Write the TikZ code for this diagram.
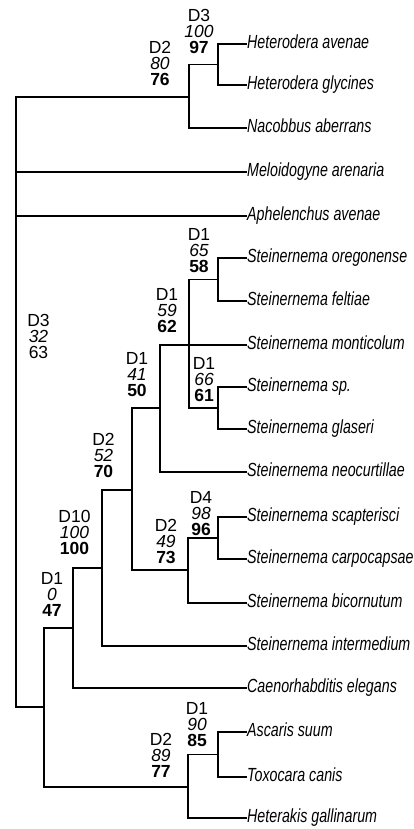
\documentclass[tikz,border=0pt]{standalone}
\usepackage{fontspec}
\setmainfont{Liberation Sans}
\newfontfamily\leaffont[FakeStretch=0.75]{Liberation Sans}
\tikzset{
  leaf/.style={anchor=base west,inner sep=0pt,font=\leaffont\itshape\fontsize{19}{19}\selectfont},
  lab/.style={anchor=south,inner sep=0pt,align=center,font=\fontsize{17.5}{16}\selectfont},
  br/.style={line width=1.25pt}
}
\newcommand{\leafat}[3]{%
  \coordinate (#1) at (247,#2);
  \node[leaf] (#1-t) at ([yshift=-4.8pt]#1) {#3};}
\newcommand{\labtxt}[3]{#1\\{\itshape #2}\\{\bfseries #3}}
\begin{document}
\begin{tikzpicture}[x=1pt,y=-1pt]
\useasboundingbox (0,0) rectangle (414,829);
% leaves
\leafat{ha}{44}{Heterodera avenae}
\leafat{hg}{85}{Heterodera glycines}
\leafat{na}{128}{Nacobbus aberrans}
\leafat{ma}{172}{Meloidogyne arenaria}
\leafat{aa}{216}{Aphelenchus avenae}
\leafat{so}{258}{Steinernema oregonense}
\leafat{sf}{301}{Steinernema feltiae}
\leafat{sm}{345}{Steinernema monticolum}
\leafat{ssp}{387}{Steinernema sp.}
\leafat{sg}{429}{Steinernema glaseri}
\leafat{sn}{472}{Steinernema neocurtillae}
\leafat{ssc}{517}{Steinernema scapterisci}
\leafat{sc}{559}{Steinernema carpocapsae}
\leafat{sb}{603}{Steinernema bicornutum}
\leafat{si}{646}{Steinernema intermedium}
\leafat{ce}{688}{Caenorhabditis elegans}
\leafat{as}{732}{Ascaris suum}
\leafat{tc}{777}{Toxocara canis}
\leafat{hgal}{818}{Heterakis gallinarum}
% internal nodes
\coordinate (n97) at (218,64.5);
\coordinate (n76) at (189,97);
\coordinate (r) at (16,402);
\coordinate (nX) at (44,707);
\coordinate (n47) at (73,628);
\coordinate (n100) at (102,568);
\coordinate (n70) at (132,490);
\coordinate (n50) at (160,408);
\coordinate (n62) at (189,345);
\coordinate (n58) at (218,279.5);
\coordinate (n61) at (218,408);
\coordinate (n73) at (188,570);
\coordinate (n96) at (218,538);
\coordinate (n77) at (188,787);
\coordinate (n85) at (218,754.5);
% branches
\draw[br] (n97) |- (ha);  \draw[br] (n97) |- (hg);
\draw[br] (n76) |- (n97); \draw[br] (n76) |- (na);
\draw[br] (r) |- (n76); \draw[br] (r) |- (ma); \draw[br] (r) |- (aa); \draw[br] (r) |- (nX);
\draw[br] (nX) |- (n47); \draw[br] (nX) |- (n77);
\draw[br] (n47) |- (n100); \draw[br] (n47) |- (ce);
\draw[br] (n100) |- (n70); \draw[br] (n100) |- (si);
\draw[br] (n70) |- (n50); \draw[br] (n70) |- (n73);
\draw[br] (n50) |- (n62); \draw[br] (n50) |- (sn);
\draw[br] (n62) |- (n58); \draw[br] (n62) |- (sm); \draw[br] (n62) |- (n61);
\draw[br] (n58) |- (so); \draw[br] (n58) |- (sf);
\draw[br] (n61) |- (ssp); \draw[br] (n61) |- (sg);
\draw[br] (n73) |- (n96); \draw[br] (n73) |- (sb);
\draw[br] (n96) |- (ssc); \draw[br] (n96) |- (sc);
\draw[br] (n77) |- (n85); \draw[br] (n77) |- (hgal);
\draw[br] (n85) |- (as); \draw[br] (n85) |- (tc);
% support labels
\node[lab] (l97) at (199,54) {\labtxt{D3}{100}{97}};
\node[lab] (l76) at (160,86) {\labtxt{D2}{80}{76}};
\node[lab] (l58) at (199,273) {\labtxt{D1}{65}{58}};
\node[lab] (l62) at (167,333) {\labtxt{D1}{59}{62}};
\node[lab] (l50) at (137,397) {\labtxt{D1}{41}{50}};
\node[lab] (l61) at (204,402) {\labtxt{D1}{66}{61}};
\node[lab] (l70) at (103.5,478) {\labtxt{D2}{52}{70}};
\node[lab] (l96) at (201,536) {\labtxt{D4}{98}{96}};
\node[lab] (l73) at (166,564) {\labtxt{D2}{49}{73}};
\node[lab] (l100) at (74.5,555) {\labtxt{D10}{100}{100}};
\node[lab] (l47) at (52,617) {\labtxt{D1}{0}{47}};
\node[lab] (lr) at (38.5,359) {D3\\{\itshape 32}\\63};
\node[lab] (l85) at (197,747) {\labtxt{D1}{90}{85}};
\node[lab] (l77) at (161,778) {\labtxt{D2}{89}{77}};
\end{tikzpicture}
\end{document}
